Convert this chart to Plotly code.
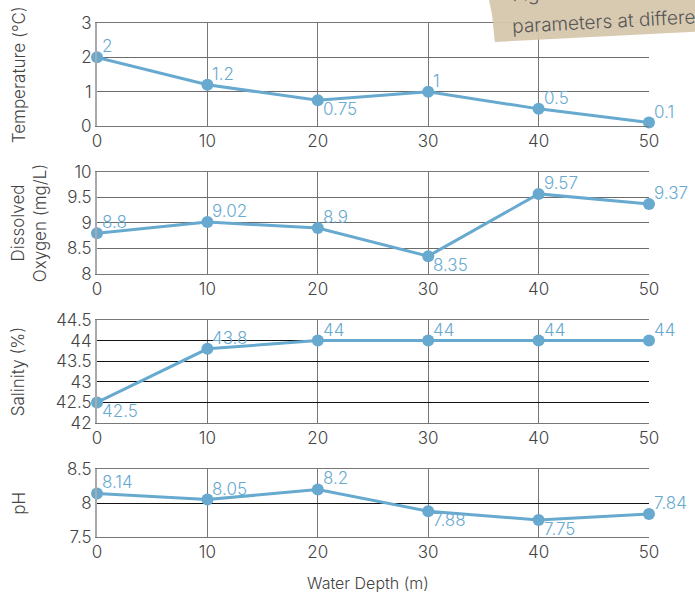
import plotly.graph_objects as go
from plotly.subplots import make_subplots

depth = [0, 10, 20, 30, 40, 50]
temperature = [2, 1.2, 0.75, 1, 0.5, 0.1]
oxygen = [8.8, 9.02, 8.9, 8.35, 9.57, 9.37]
salinity = [42.5, 43.8, 44, 44, 44, 44]
ph = [8.14, 8.05, 8.2, 7.88, 7.75, 7.84]

# label placement per point: "above" or "below" the marker, always to its right
temp_pos = ["above", "above", "below", "above", "above", "above"]
oxy_pos = ["above", "above", "above", "below", "above", "above"]
sal_pos = ["below", "above", "above", "above", "above", "above"]
ph_pos = ["above", "above", "above", "below", "below", "above"]

titles = ["Temperature (°C)", "Dissolved<br>Oxygen (mg/L)", "Salinity (%)", "pH"]
y_ranges = [[0, 3], [8, 10], [42, 44.5], [7.5, 8.5]]
y_dticks = [1, 0.5, 0.5, 0.5]
grid_colors = ["#6b6b6b", "#6b6b6b", "#111111", "#111111"]

# panel extents in paper coordinates (bottom, top)
domains = [[0.7896, 0.9616], [0.5426, 0.7129], [0.2938, 0.4658], [0.1035, 0.2170]]

BLUE = "#67a9cf"
FONT = "Inter"
WEIGHT = 300
TXT = "#444444"

fig = make_subplots(rows=4, cols=1)

series = [temperature, oxygen, salinity, ph]
positions = [temp_pos, oxy_pos, sal_pos, ph_pos]
for i, (vals, pos) in enumerate(zip(series, positions)):
    fig.add_trace(go.Scatter(
        x=depth, y=vals, mode="lines+markers",
        line=dict(color=BLUE, width=3),
        marker=dict(color=BLUE, size=12),
        cliponaxis=False, showlegend=False,
    ), row=i + 1, col=1)
    xr = "x" if i == 0 else f"x{i+1}"
    yr = "y" if i == 0 else f"y{i+1}"
    for d, v, p in zip(depth, vals, pos):
        fig.add_annotation(
            x=d, y=v, xref=xr, yref=yr, text=str(v), showarrow=False,
            xanchor="left", yanchor="bottom" if p == "above" else "top",
            xshift=3, yshift=-1 if p == "above" else 3,
            font=dict(color=BLUE, size=17, family=FONT, weight=WEIGHT),
        )

for i in range(4):
    xa = "xaxis" if i == 0 else f"xaxis{i+1}"
    ya = "yaxis" if i == 0 else f"yaxis{i+1}"
    fig.layout[xa].update(
        domain=[0.1396, 0.9338], range=[0, 50], dtick=10, tick0=0,
        showgrid=True, gridcolor="#777777", gridwidth=1,
        showline=True, linecolor="#777777", linewidth=1, mirror=True,
        zeroline=False, ticks="", ticklen=0, automargin=False,
        tickfont=dict(size=17, color=TXT, family=FONT, weight=WEIGHT),
    )
    fig.layout[ya].update(
        domain=domains[i], range=y_ranges[i], dtick=y_dticks[i], tick0=y_ranges[i][0],
        showgrid=True, gridcolor=grid_colors[i], gridwidth=1,
        showline=True, linecolor="#aaaaaa", linewidth=2,
        zeroline=False, ticks="", ticklen=0, automargin=False,
        tickfont=dict(size=17, color=TXT, family=FONT, weight=WEIGHT),
    )
    # y-axis titles sit at a fixed distance from the left edge
    fig.add_annotation(
        text=titles[i], xref="paper", yref="paper",
        x=0.042 if "<br>" in titles[i] else 0.027, y=sum(domains[i]) / 2,
        textangle=-90, showarrow=False, xanchor="center", yanchor="middle",
        font=dict(size=17, color=TXT, family=FONT, weight=WEIGHT),
    )

fig.add_annotation(
    text="Water Depth (m)", xref="paper", yref="paper", x=0.53, y=0.027,
    xanchor="center", yanchor="middle",
    showarrow=False, font=dict(size=16, color=TXT, family=FONT, weight=WEIGHT),
)

# paper tag pinned in the top-right corner
fig.add_shape(
    type="path", xref="paper", yref="paper",
    path="M 0.700 1.02 L 1.02 1.02 L 1.02 0.948 L 0.712 0.930 L 0.708 0.975 Z",
    fillcolor="#d6c7ad", line=dict(width=0), opacity=0.95, layer="above",
)
fig.add_annotation(
    text="Fig.2 Water quality", xref="paper", yref="paper", x=0.733, y=0.986,
    xanchor="left", yanchor="bottom", showarrow=False, textangle=-3,
    font=dict(size=19, color="#555555", family=FONT, weight=WEIGHT),
)
fig.add_annotation(
    text="parameters at different depths", xref="paper", yref="paper", x=0.733, y=0.968,
    xanchor="left", yanchor="middle", showarrow=False, textangle=-3,
    font=dict(size=19, color="#555555", family=FONT, weight=WEIGHT),
)

fig.update_layout(
    width=695, height=599,
    margin=dict(l=0, r=0, t=0, b=0),
    paper_bgcolor="white", plot_bgcolor="white",
    font=dict(family=FONT),
)

fig.write_html("out.html")
